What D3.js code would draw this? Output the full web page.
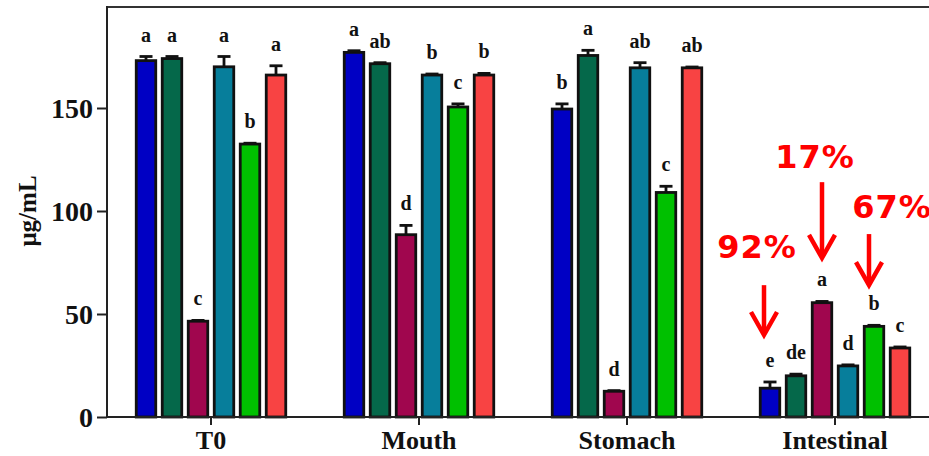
<!DOCTYPE html>
<html>
<head>
<meta charset="utf-8">
<script src="https://cdn.jsdelivr.net/npm/d3@7"></script>
<style>
  body { margin: 0; background: #fff; }
  svg { display: block; }
</style>
</head>
<body>
<svg id="chart" width="929" height="456"></svg>
<script>
// data
var groups = ["T0", "Mouth", "Stomach", "Intestinal"];
var series = ["s1", "s2", "s3", "s4", "s5", "s6"];
var colors = ["#0000c4", "#05684a", "#a0064e", "#077e9b", "#00c000", "#f84343"];

var meanT0 = [173, 174, 46.5, 170, 132.5, 166];
var meanMouth = [177, 171.5, 88.5, 166, 150.5, 166];
var meanStomach = [149.5, 175.5, 12.5, 169.5, 109, 169.5];
var meanIntestinal = [14, 20, 55.5, 24.8, 44, 33.5];

var errT0 = [2, 1, 0.4, 5, 0.4, 4.5];
var errMouth = [0.8, 0.5, 4.5, 0.5, 1.5, 0.8];
var errStomach = [2.5, 2.5, 0.3, 2.5, 3, 0.4];
var errIntestinal = [3, 0.8, 0.6, 0.5, 0.5, 0.5];

var lettersT0 = ["a", "a", "c", "a", "b", "a"];
var lettersMouth = ["a", "ab", "d", "b", "c", "b"];
var lettersStomach = ["b", "a", "d", "ab", "c", "ab"];
var lettersIntestinal = ["e", "de", "a", "d", "b", "c"];

var yTicks = [0, 50, 100, 150];

// red callouts on the Intestinal group
var noteLabels = ["92%", "17%", "67%"];
var noteSeries = [0, 2, 4];
var noteTextAt = [77.2, 121, 96.6];
var noteArrowFrom = [64, 114, 88.8];
var noteArrowTo = [39.8, 77.2, 64];

var means = [meanT0, meanMouth, meanStomach, meanIntestinal];
var errs = [errT0, errMouth, errStomach, errIntestinal];
var letters = [lettersT0, lettersMouth, lettersStomach, lettersIntestinal];

var rows = [];
groups.forEach(function (g, gi) {
  series.forEach(function (s, si) {
    rows.push({ group: g, series: s, si: si, value: means[gi][si], err: errs[gi][si], letter: letters[gi][si] });
  });
});

var svg = d3.select("#chart");
var plotLeft = 107, plotBottom = 417, plotTop = 5;

var y = d3.scaleLinear().domain([0, 200]).range([plotBottom, plotTop]);
var x0 = d3.scaleBand().domain(groups).range([plotLeft, plotLeft + 832]);
var x1 = d3.scaleBand().domain(series).range([-78, 78]).paddingInner(0.25).paddingOuter(0.125);

function barCenter(g, s) {
  return x0(g) + x0.bandwidth() / 2 + x1(s) + x1.bandwidth() / 2;
}

var serif = "'Liberation Serif', 'Times New Roman', serif";

// frame top line
svg.append("line")
  .attr("x1", plotLeft).attr("x2", 929)
  .attr("y1", 7).attr("y2", 7)
  .attr("stroke", "#333").attr("stroke-width", 2);

// bars
svg.append("g").selectAll("rect")
  .data(rows)
  .enter().append("rect")
  .attr("x", function (d) { return x0(d.group) + x0.bandwidth() / 2 + x1(d.series); })
  .attr("y", function (d) { return y(d.value); })
  .attr("width", x1.bandwidth())
  .attr("height", function (d) { return plotBottom - y(d.value); })
  .attr("fill", function (d) { return colors[d.si]; })
  .attr("stroke", "#111")
  .attr("stroke-width", 2.8);

// error bars (upper only)
var eb = svg.append("g").attr("stroke", "#111").attr("stroke-width", 2.8);
rows.forEach(function (d) {
  var cx = barCenter(d.group, d.series);
  eb.append("line").attr("x1", cx).attr("x2", cx)
    .attr("y1", y(d.value)).attr("y2", y(d.value + d.err));
  eb.append("line").attr("x1", cx - 6.5).attr("x2", cx + 6.5)
    .attr("y1", y(d.value + d.err)).attr("y2", y(d.value + d.err));
});

// significance letters
svg.append("g").selectAll("text")
  .data(rows)
  .enter().append("text")
  .attr("x", function (d) { return barCenter(d.group, d.series); })
  .attr("y", function (d) { return y(d.value + d.err) - 15; })
  .attr("text-anchor", "middle")
  .style("font-family", serif)
  .style("font-weight", "bold")
  .style("font-size", "20px")
  .attr("fill", "#111")
  .text(function (d) { return d.letter; });

// y axis
var yAxis = svg.append("g")
  .attr("transform", "translate(" + plotLeft + ",0)")
  .call(d3.axisLeft(y).tickValues(yTicks).tickSize(10).tickPadding(4));
yAxis.select(".domain").remove();
yAxis.selectAll(".tick line").attr("stroke", "#222").attr("stroke-width", 2);
yAxis.selectAll(".tick text")
  .style("font-family", serif).style("font-weight", "bold")
  .style("font-size", "28px").attr("fill", "#111").attr("dy", "0.34em");
svg.append("line")
  .attr("x1", plotLeft).attr("x2", plotLeft).attr("y1", 6).attr("y2", plotBottom)
  .attr("stroke", "#222").attr("stroke-width", 2);

// x axis
var xAxis = svg.append("g")
  .attr("transform", "translate(0," + plotBottom + ")")
  .call(d3.axisBottom(x0).tickSize(8).tickPadding(6));
xAxis.select(".domain").remove();
xAxis.selectAll(".tick line").attr("stroke", "#222").attr("stroke-width", 2);
xAxis.selectAll(".tick text")
  .style("font-family", serif).style("font-weight", "bold")
  .style("font-size", "26px").attr("fill", "#111");
svg.append("line")
  .attr("x1", plotLeft).attr("x2", 929).attr("y1", plotBottom).attr("y2", plotBottom)
  .attr("stroke", "#222").attr("stroke-width", 2);

// y label
svg.append("text")
  .attr("transform", "translate(36," + ((plotBottom + plotTop) / 2) + ") rotate(-90)")
  .attr("text-anchor", "middle")
  .style("font-family", serif).style("font-weight", "bold")
  .style("font-size", "25px").attr("fill", "#111")
  .text("μg/mL");

// red callouts
var textShift = [-13, -7, 18];
var arrowShift = [-6, 0, -5];
var notes = svg.append("g");
noteLabels.forEach(function (lab, i) {
  var cx = barCenter("Intestinal", series[noteSeries[i]]);
  var ax = cx + arrowShift[i];
  notes.append("text")
    .attr("x", cx + textShift[i])
    .attr("y", y(noteTextAt[i]))
    .attr("text-anchor", "middle")
    .style("font-family", "'DejaVu Sans', Verdana, sans-serif")
    .style("font-weight", "bold")
    .style("font-size", "32px")
    .style("letter-spacing", "1px")
    .attr("fill", "#ff0000")
    .text(lab);
  var y1 = y(noteArrowFrom[i]), y2 = y(noteArrowTo[i]);
  notes.append("line")
    .attr("x1", ax).attr("x2", ax).attr("y1", y1).attr("y2", y2 - 2)
    .attr("stroke", "#ff0000").attr("stroke-width", 4.5);
  notes.append("path")
    .attr("d", "M" + (ax - 13) + "," + (y2 - 23) + "L" + ax + "," + y2 + "L" + (ax + 13) + "," + (y2 - 23))
    .attr("fill", "none").attr("stroke", "#ff0000").attr("stroke-width", 4.5)
    .attr("stroke-linejoin", "miter");
});
</script>
</body>
</html>
